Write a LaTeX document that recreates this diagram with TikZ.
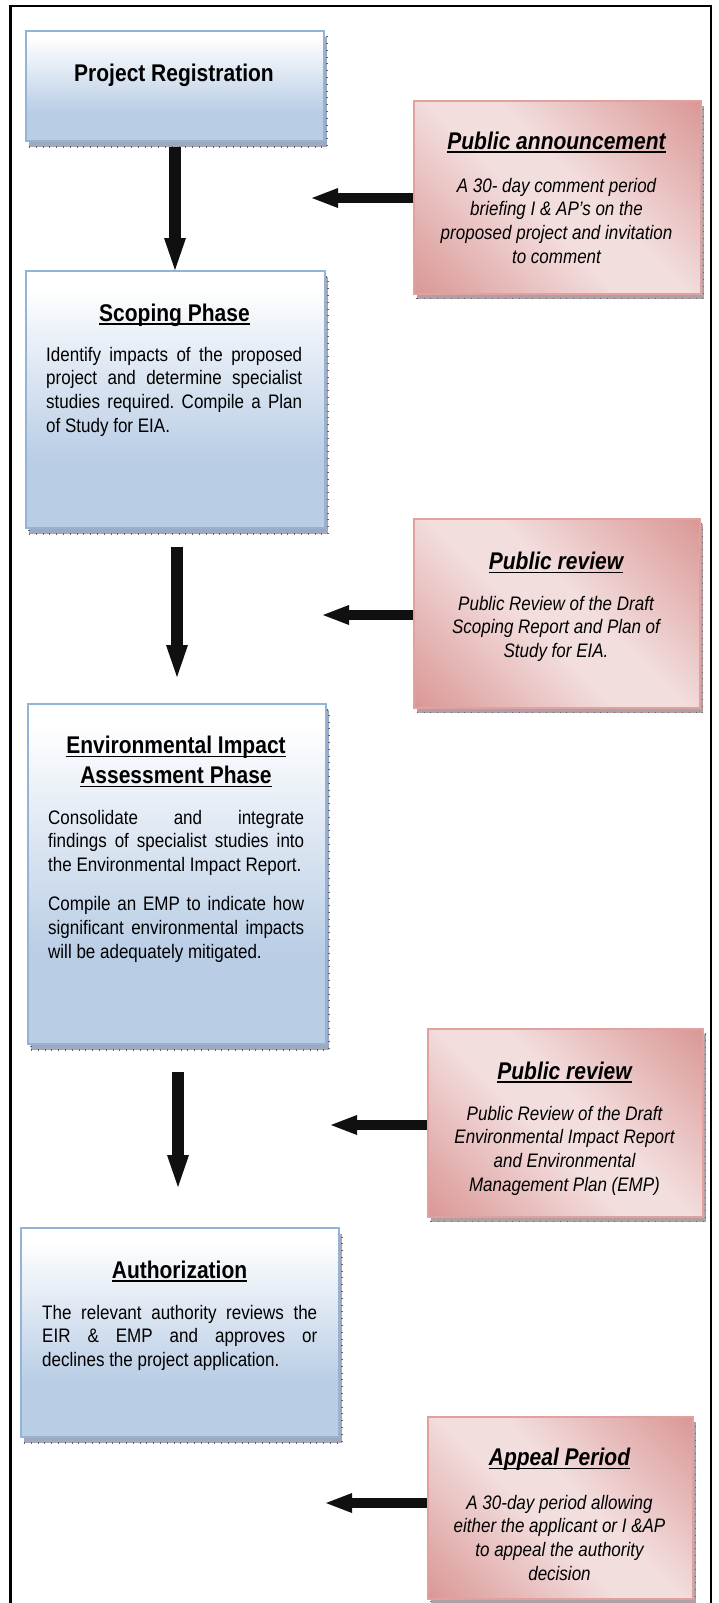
\documentclass[tikz,border=0pt]{standalone}
\usepackage{fontspec}
\setmainfont{Liberation Sans}
\usepackage{graphicx}
\usetikzlibrary{arrows.meta,shadows}
\frenchspacing

\definecolor{blfill}{RGB}{185,205,229}
\definecolor{bldraw}{RGB}{149,179,215}
\definecolor{pkdark}{RGB}{217,150,148}
\definecolor{pklight}{RGB}{243,222,222}
\definecolor{pkdraw}{RGB}{226,160,158}
\definecolor{shblue}{RGB}{160,168,185}
\definecolor{shpink}{RGB}{175,160,165}
\definecolor{shtick}{RGB}{95,100,115}
\definecolor{arrblack}{RGB}{16,16,16}

\pgfdeclareverticalshading{bluegrad}{100bp}{color(0bp)=(blfill); color(25bp)=(blfill); color(38bp)=(blfill); color(72bp)=(white); color(100bp)=(white)}
\pgfdeclarehorizontalshading{pinkgrad}{100bp}{color(0bp)=(pkdark); color(14bp)=(pkdark); color(45bp)=(pklight); color(55bp)=(pklight); color(86bp)=(pkdark); color(100bp)=(pkdark)}

\newcommand{\vst}[1]{\scalebox{1}[1.15]{#1}}
\newcommand{\tul}[1]{\leavevmode\setbox0\hbox{#1}\rlap{\rule[-3.4pt]{\wd0}{1.5pt}}\box0}
\newcommand{\bltitle}[1]{\vst{\fontsize{21}{25}\selectfont\bfseries\tul{#1}}}
\newcommand{\pktitle}[1]{\vst{\fontsize{21}{25}\selectfont\bfseries\itshape\tul{#1}}}
\newcommand{\blbody}[2]{\vst{\parbox[t]{#1}{\frenchspacing\fontsize{17}{20.6}\selectfont #2}}}
\newcommand{\pkbody}[1]{\vst{\parbox[t]{270pt}{\frenchspacing\centering\fontsize{17}{20.6}\selectfont\itshape #1}}}

\tikzset{
  bluebox/.style={draw=bldraw, line width=1.8pt, shade, shading=bluegrad,
    anchor=north west, inner sep=0pt,
    drop shadow={shadow xshift=3pt, shadow yshift=-6pt, fill=shblue, draw=shtick,
      line width=1.2pt, dash pattern=on 0.8pt off 6pt, opacity=1}},
  pinkbox/.style={draw=pkdraw, line width=1.6pt, shade, shading=pinkgrad, shading angle=45,
    anchor=north west, inner sep=0pt,
    drop shadow={shadow xshift=3pt, shadow yshift=-5pt, fill=shpink, draw=shtick,
      line width=1.2pt, dash pattern=on 0.8pt off 6pt, opacity=1}},
  downarr/.style={draw=arrblack, line width=12pt,
    -{Triangle[length=32pt,width=22pt,line width=0pt]}},
  leftarr/.style={draw=arrblack, line width=10.5pt,
    -{Triangle[length=26pt,width=20pt,line width=0pt]}},
  txt/.style={inner sep=0pt, anchor=base},
  txtw/.style={inner sep=0pt, anchor=base west},
}

\begin{document}
\begin{tikzpicture}[x=1pt,y=-1pt]
\useasboundingbox (0,0) rectangle (718,1603);
\fill[white] (0,0) rectangle (718,1603);

% outer frame
\draw[line width=2.8pt] (10.7,1603) -- (10.7,6) -- (711,6) -- (711,1603);

% blue boxes
\node[bluebox, minimum width=298pt, minimum height=110pt] (pr) at (25,30) {};
\node[bluebox, minimum width=299pt, minimum height=257pt] (scop) at (25,270) {};
\node[bluebox, minimum width=298pt, minimum height=340pt] (eia) at (27,703) {};
\node[bluebox, minimum width=318pt, minimum height=209pt] (auth) at (20,1227) {};

% pink boxes
\node[pinkbox, minimum width=287pt, minimum height=193pt] (pa) at (413,100) {};
\node[pinkbox, minimum width=286pt, minimum height=189pt] (pr1) at (413,518) {};
\node[pinkbox, minimum width=275pt, minimum height=188pt] (pr2) at (427,1028) {};
\node[pinkbox, minimum width=265pt, minimum height=182pt] (app) at (427,1416) {};

% blue texts
\node[txt] (prt) at (174,81.5) {\vst{\fontsize{21}{25}\selectfont\bfseries Project Registration}};

\node[txt] (scopt) at (174.5,321) {\bltitle{Scoping Phase}};
\node[txtw] (scopb) at (46,361) {\blbody{256pt}{Identify impacts of the proposed\linebreak project and determine specialist\linebreak studies required. Compile a Plan\linebreak of Study for EIA.}};

\node[txt] (eiat) at (176,753.5) {\vst{\parbox[t]{298pt}{\centering\fontsize{21}{26.1}\selectfont\bfseries \tul{Environmental Impact}\\\tul{Assessment Phase}}}};
\node[txtw] (eiab) at (48,824) {\blbody{256pt}{\setlength{\parskip}{13.8pt}Consolidate and integrate\linebreak findings of specialist studies into\linebreak the Environmental Impact Report.\par Compile an EMP to indicate how\linebreak significant environmental impacts\linebreak will be adequately mitigated.}};

\node[txt] (autht) at (179.5,1278) {\bltitle{Authorization}};
\node[txtw] (authb) at (42,1319) {\blbody{275pt}{The relevant authority reviews the\linebreak EIR \& EMP and approves or\linebreak declines the project application.}};

% pink texts
\node[txt] (pat) at (556.5,149) {\pktitle{Public announcement}};
\node[txt] (pab) at (556.5,192) {\pkbody{A 30- day comment period\\briefing I \& AP’s on the\\proposed project and invitation\\to comment}};

\node[txt] (pr1t) at (556,569.5) {\pktitle{Public review}};
\node[txt] (pr1b) at (556,610) {\pkbody{Public Review of the Draft\\Scoping Report and Plan of\\Study for EIA.}};

\node[txt] (pr2t) at (564.5,1079) {\pktitle{Public review}};
\node[txt] (pr2b) at (564.5,1120) {\pkbody{Public Review of the Draft\\Environmental Impact Report\\and Environmental\\Management Plan (EMP)}};

\node[txt] (appt) at (559.5,1465.5) {\pktitle{Appeal Period}};
\node[txt] (appb) at (559.5,1509) {\pkbody{A 30-day period allowing\\either the applicant or I \&AP\\to appeal the authority\\decision}};

% down arrows
\coordinate (d1a) at (175,147);
\coordinate (d2a) at (177,547);
\coordinate (d2b) at (177,677);
\coordinate (d3a) at (178,1072);
\coordinate (d3b) at (178,1187);
\draw[downarr] (d1a) -- (d1a |- scop.north);
\draw[downarr] (d2a) -- (d2b);
\draw[downarr] (d3a) -- (d3b);

% left arrows
\coordinate (l1) at (312,198);
\coordinate (l2) at (323,615);
\coordinate (l3) at (331,1125);
\coordinate (l4) at (326,1503);
\draw[leftarr] (pa.west |- l1) -- (l1);
\draw[leftarr] (pr1.west |- l2) -- (l2);
\draw[leftarr] (pr2.west |- l3) -- (l3);
\draw[leftarr] (app.west |- l4) -- (l4);
\end{tikzpicture}
\end{document}
